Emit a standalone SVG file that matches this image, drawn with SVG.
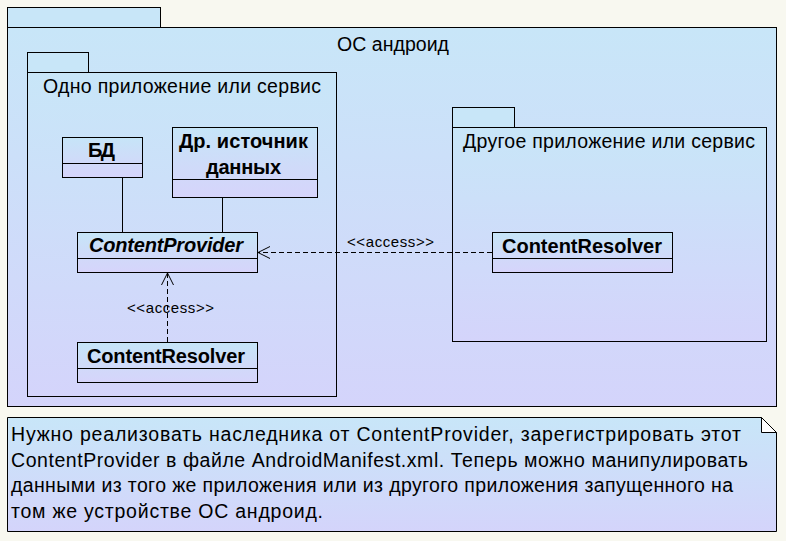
<svg xmlns="http://www.w3.org/2000/svg" width="786" height="541" viewBox="0 0 786 541">
<defs>
<linearGradient id="g" x1="0" y1="0" x2="0" y2="1">
<stop offset="0" stop-color="#c8e6f8"/>
<stop offset="1" stop-color="#d4d4fb"/>
</linearGradient>
<linearGradient id="gc" x1="0" y1="0" x2="0" y2="1">
<stop offset="0" stop-color="#c6e5f8"/>
<stop offset="0.6" stop-color="#d0daf9"/>
<stop offset="1" stop-color="#d6d4fb"/>
</linearGradient>
<marker id="open" markerWidth="14" markerHeight="14" refX="13" refY="7" orient="auto" markerUnits="userSpaceOnUse">
<path d="M1,1 L13,7 L1,13" fill="none" stroke="#000" stroke-width="1"/>
</marker>
</defs>
<style>
.box{fill:url(#g);stroke:#000;stroke-width:1}
.tab{fill:#c8e6f8;stroke:#000;stroke-width:1}
.cls{fill:url(#gc);stroke:#000;stroke-width:1}
.ln{stroke:#000;stroke-width:1;fill:none}
.dash{stroke:#000;stroke-width:1;fill:none;stroke-dasharray:5,3}
.t{font-family:"Liberation Sans",Arial,sans-serif;font-size:19.5px;fill:#000}
.b{font-family:"Liberation Sans",Arial,sans-serif;font-size:20px;font-weight:bold;fill:#000}
.bi{font-family:"Liberation Sans",Arial,sans-serif;font-size:20px;font-weight:bold;font-style:italic;fill:#000}
.s{font-family:"Liberation Sans",Arial,sans-serif;font-size:15px;fill:#000}
.n{font-family:"Liberation Sans",Arial,sans-serif;font-size:19.5px;fill:#000}
</style>
<rect width="786" height="541" fill="#f8f8f0"/>
<g id="pkg-os">
<rect class="tab" x="7.5" y="7.5" width="153" height="20"/>
<rect class="box" x="7.5" y="27.5" width="769" height="379"/>
<text class="t" x="337" y="51" textLength="112">ОС андроид</text>
</g>
<g id="pkg-app1">
<rect class="tab" x="27.5" y="52.5" width="61" height="20"/>
<rect class="box" x="27.5" y="72.5" width="309" height="324"/>
<text class="t" x="43" y="93" textLength="278">Одно приложение или сервис</text>
</g>
<g id="pkg-app2">
<rect class="tab" x="452.5" y="107.5" width="62" height="20"/>
<rect class="box" x="452.5" y="127.5" width="314" height="214"/>
<text class="t" x="463" y="148" textLength="292">Другое приложение или сервис</text>
</g>
<g id="cls-db">
<rect class="cls" x="62.5" y="137.5" width="80" height="40"/>
<line class="ln" x1="62.5" y1="163.5" x2="142.5" y2="163.5"/>
<text class="b" x="88" y="157" textLength="27">БД</text>
</g>
<g id="cls-other">
<rect class="cls" x="172.5" y="127.5" width="145" height="70"/>
<line class="ln" x1="172.5" y1="179.5" x2="317.5" y2="179.5"/>
<text class="b" x="179" y="148" textLength="129">Др. источник</text>
<text class="b" x="206" y="174" textLength="75">данных</text>
</g>
<g id="cls-provider">
<rect class="cls" x="77.5" y="232.5" width="180" height="40"/>
<line class="ln" x1="77.5" y1="258.5" x2="257.5" y2="258.5"/>
<text class="bi" x="89" y="252" textLength="154">ContentProvider</text>
</g>
<g id="cls-resolver1">
<rect class="cls" x="77.5" y="342.5" width="180" height="40"/>
<line class="ln" x1="77.5" y1="368.5" x2="257.5" y2="368.5"/>
<text class="b" x="87" y="363" textLength="158">ContentResolver</text>
</g>
<g id="cls-resolver2">
<rect class="cls" x="492.5" y="232.5" width="180" height="40"/>
<line class="ln" x1="492.5" y1="258.5" x2="672.5" y2="258.5"/>
<text class="b" x="502" y="253" textLength="160">ContentResolver</text>
</g>
<g id="connectors">
<line class="ln" x1="122.5" y1="177.5" x2="122.5" y2="232.5"/>
<line class="ln" x1="222.5" y1="197.5" x2="222.5" y2="232.5"/>
<line class="dash" x1="492" y1="252.5" x2="258" y2="252.5" marker-end="url(#open)"/>
<text class="s" x="347" y="247" textLength="87">&lt;&lt;access&gt;&gt;</text>
<line class="dash" x1="167.5" y1="342" x2="167.5" y2="273" marker-end="url(#open)"/>
<text class="s" x="127" y="313" textLength="87">&lt;&lt;access&gt;&gt;</text>
</g>
<g id="note">
<path class="box" d="M7.5,417.5 H761.5 L776.5,432.5 V531.5 H7.5 Z"/>
<path d="M761.5,417.5 V432.5 H776.5 Z" fill="#ffffff" stroke="#000" stroke-width="1"/>
<text class="n" x="11" y="441" textLength="730">Нужно реализовать наследника от ContentProvider, зарегистрировать этот</text>
<text class="n" x="11" y="466.5" textLength="737">ContentProvider в файле AndroidManifest.xml. Теперь можно манипулировать</text>
<text class="n" x="11" y="492" textLength="722">данными из того же приложения или из другого приложения запущенного на</text>
<text class="n" x="11" y="517.5" textLength="312">том же устройстве ОС андроид.</text>
</g>
</svg>
